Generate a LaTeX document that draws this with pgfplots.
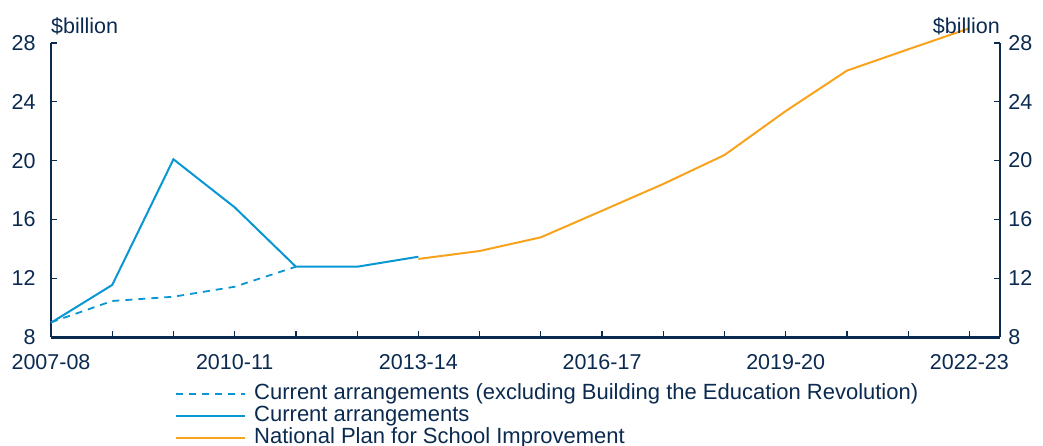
\documentclass[border=0pt]{standalone}
\usepackage{pgfplots}
\pgfplotsset{compat=1.18}
\usepackage{fontspec}
\setmainfont{Liberation Sans}
\definecolor{navy}{HTML}{0B2A50}
\definecolor{cblue}{HTML}{0996D4}
\definecolor{corange}{HTML}{F8A31B}
\begin{document}
\fontsize{21.5bp}{24bp}\selectfont
\begin{tikzpicture}
\pgfplotsset{
  common/.style={
    scale only axis, width=949bp, height=294bp,
    at={(0,0)}, anchor=south west,
    xmin=0, xmax=15.5, ymin=8, ymax=28,
    ytick={8,12,...,28},
    tick align=inside, major tick length=6bp,
    tick style={navy, line width=1.2bp},
    every tick label/.append style={font=\fontsize{21.5bp}{24bp}\selectfont, text=navy},
    /pgf/number format/assume math mode=true,
    clip=false,
  }
}
\begin{axis}[common,
  axis x line*=bottom, axis y line*=left,
  x axis line style={-, navy, line width=3bp},
  y axis line style={-, navy, line width=2bp},
  xtick={0,...,15},
  xticklabels={2007-08,,,2010-11,,,2013-14,,,2016-17,,,2019-20,,,2022-23},
  xticklabel style={yshift=-10bp},
  yticklabel style={xshift=-8bp},
  legend style={at={(0.1307,-0.157)}, anchor=north west, draw=none, fill=none,
    inner sep=0pt, column sep=8bp, row sep=0pt,
    font=\fontsize{22bp}{24bp}\selectfont, text=navy,
    nodes={inner sep=0pt, text height=16.2bp, text depth=5.6bp}},
  legend cell align=left,
  legend image code/.code={\draw[#1] (0bp,0bp) -- (69bp,0bp);},
]
\addplot[cblue, line width=1.8bp, dash pattern=on 7bp off 6bp] coordinates {
 (0,9.0) (1,10.45) (2,10.74) (3,11.42) (4,12.78)};
\addlegendentry{Current arrangements (excluding Building the Education Revolution)}
\addplot[cblue, line width=2bp] coordinates {
 (0,8.97) (1,11.54) (2,20.09) (3,16.82) (4,12.78) (5,12.78) (6,13.46)};
\addlegendentry{Current arrangements}
\addplot[corange, line width=2bp] coordinates {
 (6,13.31) (7,13.85) (8,14.78) (9,16.59) (10,18.41) (11,20.38) (12,23.37) (13,26.12) (14,27.57) (15,29.0)};
\addlegendentry{National Plan for School Improvement}
\node[anchor=base west, text=navy, inner sep=0pt] at (rel axis cs:0,1) [yshift=9.5bp] {\$billion};
\node[anchor=base east, text=navy, inner sep=0pt] at (rel axis cs:1,1) [yshift=9.5bp] {\$billion};
\end{axis}
\begin{axis}[common,
  axis x line=none, axis y line*=right,
  y axis line style={-, navy, line width=2bp},
  xtick=\empty,
  yticklabel style={xshift=1bp},
]
\addplot[draw=none] coordinates {(0,8)};
\end{axis}
\pgfresetboundingbox
\useasboundingbox (-51bp,-109bp) rectangle (992bp,337bp);
\end{tikzpicture}
\end{document}
